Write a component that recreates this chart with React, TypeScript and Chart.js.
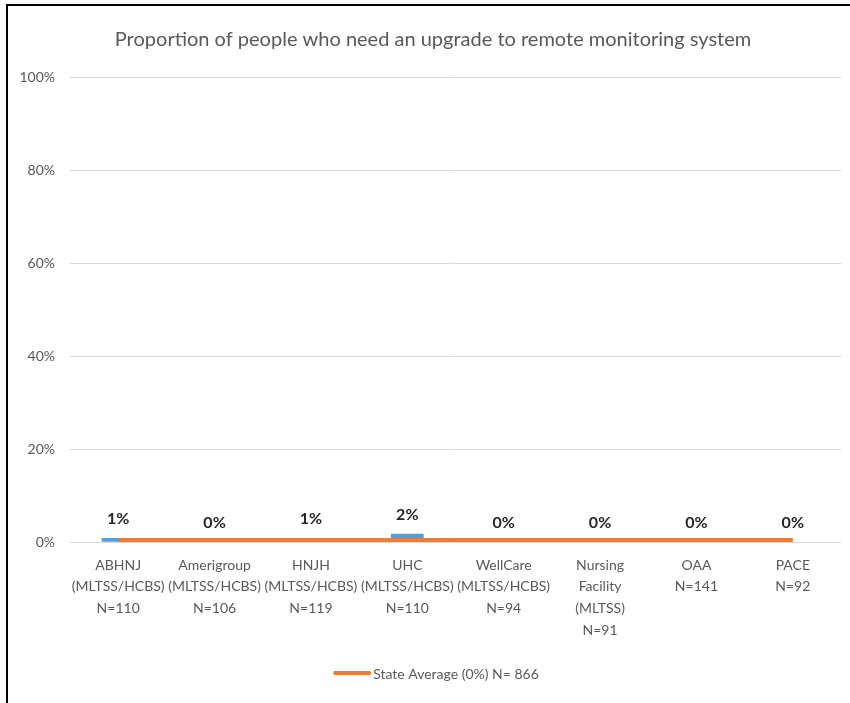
import React, { useEffect, useRef } from "react";
import { Chart, registerables } from "chart.js";

Chart.register(...registerables);

const categories: string[][] = [
  ["ABHNJ", "(MLTSS/HCBS)", "N=110"],
  ["Amerigroup", "(MLTSS/HCBS)", "N=106"],
  ["HNJH", "(MLTSS/HCBS)", "N=119"],
  ["UHC", "(MLTSS/HCBS)", "N=110"],
  ["WellCare", "(MLTSS/HCBS)", "N=94"],
  ["Nursing", "Facility", "(MLTSS)", "N=91"],
  ["OAA", "N=141"],
  ["PACE", "N=92"],
];
const planValues = [0.9, 0, 0.84, 1.8, 0, 0, 0, 0];
const stateAverage = [0.46, 0.46, 0.46, 0.46, 0.46, 0.46, 0.46, 0.46];
const stateLabel = "State Average (0%) N= 866";
const titleText = "Proportion of people who need an upgrade to remote monitoring system";
const yTicks = [0, 20, 40, 60, 80, 100];

const FONT = "Lato, 'Open Sans', sans-serif";
const ORANGE = "#ED7D31";
const BLUE = "#5B9BD5";

const decorPlugin = {
  id: "decor",
  afterDatasetsDraw(chart: any) {
    const ctx = chart.ctx;
    const meta = chart.getDatasetMeta(0);
    ctx.save();
    ctx.font = `bold 16px ${FONT}`;
    ctx.fillStyle = "#262626";
    ctx.textAlign = "center";
    ctx.textBaseline = "bottom";
    meta.data.forEach((bar: any, i: number) => {
      const v = planValues[i];
      ctx.fillText(`${Math.round(v)}%`, bar.x, bar.y - 11);
    });
    ctx.restore();
  },
  afterDraw(chart: any) {
    const ctx = chart.ctx;
    ctx.save();
    ctx.font = `20px ${FONT}`;
    ctx.fillStyle = "#595959";
    ctx.textAlign = "center";
    ctx.textBaseline = "middle";
    ctx.fillText(titleText, 433, 40);
    ctx.font = `14px ${FONT}`;
    const tw = ctx.measureText(stateLabel).width;
    const lineW = 38;
    const gap = 2;
    const total = lineW + gap + tw;
    const x0 = 436 - total / 2;
    const y = 673;
    ctx.strokeStyle = ORANGE;
    ctx.lineWidth = 4;
    ctx.lineCap = "round";
    ctx.beginPath();
    ctx.moveTo(x0 + 2, y);
    ctx.lineTo(x0 + lineW - 2, y);
    ctx.stroke();
    ctx.textAlign = "left";
    ctx.fillText(stateLabel, x0 + lineW + gap, y + 1);
    ctx.restore();
  },
};

export default function App() {
  const ref = useRef<HTMLCanvasElement>(null);
  useEffect(() => {
    if (!ref.current) return;
    const chart = new Chart(ref.current, {
      type: "bar",
      data: {
        labels: categories,
        datasets: [
          {
            type: "bar",
            label: "Plan",
            data: planValues,
            backgroundColor: BLUE,
            categoryPercentage: 1,
            barPercentage: 0.34,
            order: 1,
          } as any,
          {
            type: "line",
            label: stateLabel,
            data: stateAverage,
            borderColor: ORANGE,
            backgroundColor: ORANGE,
            borderWidth: 4,
            pointRadius: 0,
            fill: false,
            order: 0,
          } as any,
        ],
      },
      options: {
        animation: false,
        responsive: false,
        maintainAspectRatio: false,
        layout: { padding: { left: 8, right: 9, top: 77, bottom: 58 } },
        plugins: {
          title: { display: false },
          legend: { display: false },
          tooltip: { enabled: false },
        },
        scales: {
          x: {
            grid: { display: false },
            border: { display: false },
            ticks: {
              color: "#595959",
              font: { family: FONT, size: 14, lineHeight: 1.55 },
              padding: 4,
              maxRotation: 0,
              autoSkip: false,
            },
          },
          y: {
            min: 0,
            max: 100,
            afterFit: (s: any) => {
              s.width = 62;
            },
            afterBuildTicks: (s: any) => {
              s.ticks = yTicks.map((v) => ({ value: v }));
            },
            grid: { color: "#D9D9D9", drawTicks: false },
            border: { display: false },
            ticks: {
              color: "#595959",
              font: { family: FONT, size: 14 },
              padding: 15,
              callback: (v: any) => `${v}%`,
            },
          },
        },
      },
      plugins: [decorPlugin],
    });
    return () => chart.destroy();
  }, []);

  return (
    <div style={{ position: "absolute", left: 0, top: 0, width: 850, height: 703, background: "#fff" }}>
      <canvas ref={ref} width={850} height={703} style={{ position: "absolute", left: 0, top: 0 }} />
      <div style={{ position: "absolute", left: 6, top: 4, width: 844, height: 2, background: "#000" }} />
      <div style={{ position: "absolute", left: 6, top: 4, width: 2, height: 699, background: "#000" }} />
    </div>
  );
}
